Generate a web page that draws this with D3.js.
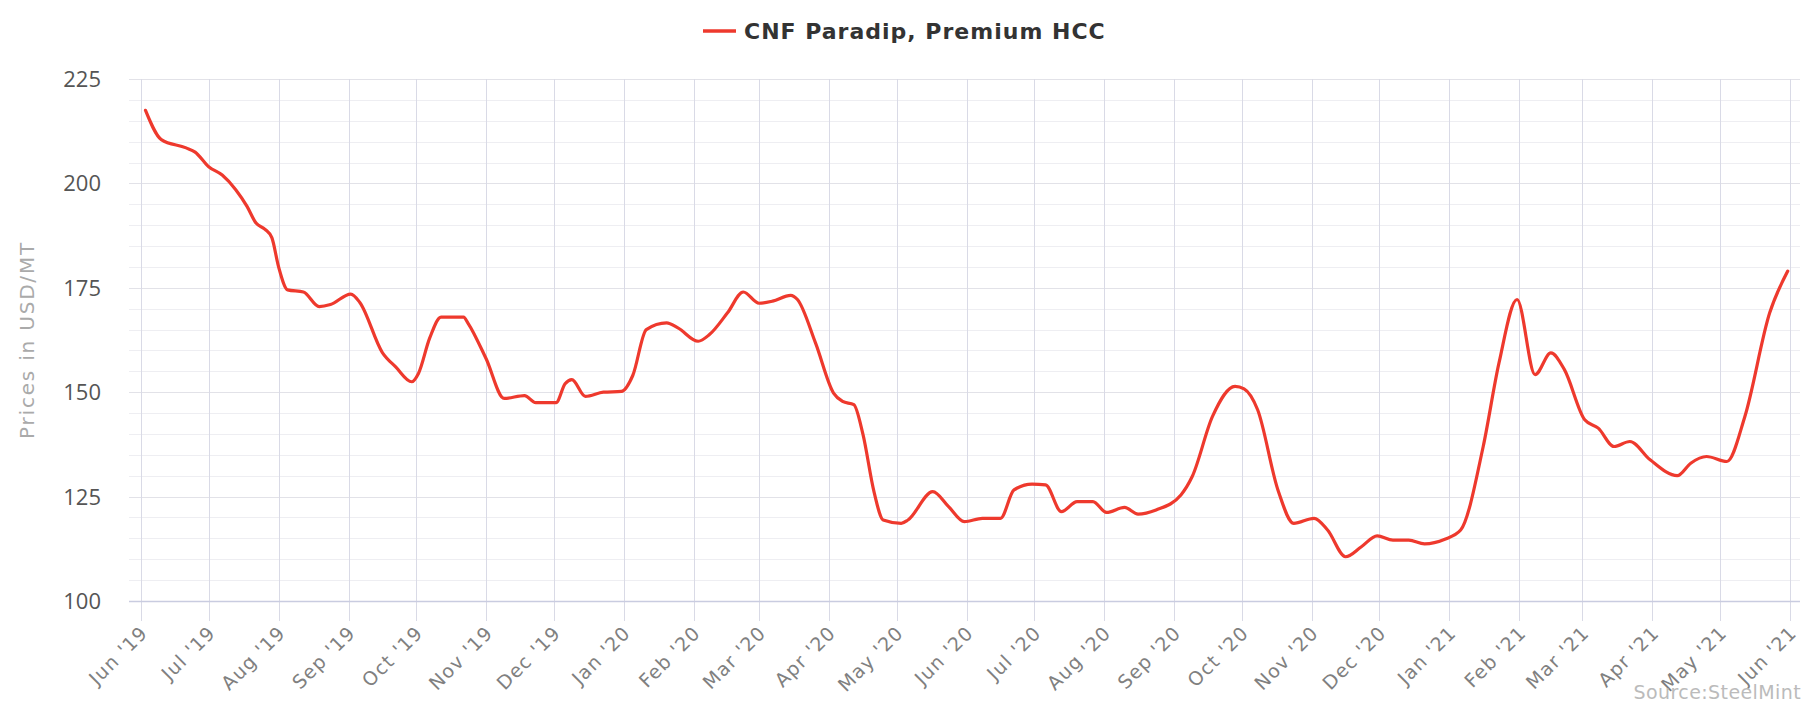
<!DOCTYPE html>
<html>
<head>
<meta charset="utf-8">
<script src="https://cdn.jsdelivr.net/npm/d3@7/dist/d3.min.js"></script>
<style>
  html, body { margin: 0; padding: 0; background: #fff; }
  svg { display: block; font-family: "Open Sans", "Noto Sans", sans-serif; }
</style>
</head>
<body>
<svg id="chart" width="1802" height="704"></svg>
<script>
// ---- data ----
const seriesName = "CNF Paradip, Premium HCC";
const yAxisTitle = "Prices in USD/MT";
const sourceText = "Source:SteelMint";
const yTicks = [100, 125, 150, 175, 200, 225];
const dates = [
  "2019-06-03","2019-06-10","2019-06-21","2019-06-25","2019-07-01","2019-07-07","2019-07-13",
  "2019-07-18","2019-07-22","2019-07-26","2019-07-29","2019-08-01","2019-08-05","2019-08-12",
  "2019-08-19","2019-08-24","2019-09-02","2019-09-06","2019-09-16","2019-09-22","2019-09-29",
  "2019-10-02","2019-10-07","2019-10-12","2019-10-22","2019-10-24","2019-11-01","2019-11-09",
  "2019-11-18","2019-11-23","2019-12-02","2019-12-06","2019-12-09","2019-12-15","2019-12-23",
  "2019-12-31","2020-01-05","2020-01-11","2020-01-20","2020-01-25","2020-02-03","2020-02-08",
  "2020-02-16","2020-02-23","2020-03-01","2020-03-07","2020-03-15","2020-03-18","2020-03-26",
  "2020-04-03","2020-04-07","2020-04-12","2020-04-16","2020-04-21","2020-04-25","2020-05-03",
  "2020-05-06","2020-05-17","2020-05-24","2020-05-31","2020-06-08","2020-06-16","2020-06-22",
  "2020-06-30","2020-07-06","2020-07-13","2020-07-20","2020-07-27","2020-08-02","2020-08-10",
  "2020-08-16","2020-08-24","2020-09-04","2020-09-09","2020-09-18","2020-09-28","2020-10-02",
  "2020-10-08","2020-10-17","2020-10-24","2020-11-02","2020-11-08","2020-11-16","2020-11-23",
  "2020-11-30","2020-12-07","2020-12-14","2020-12-21","2020-12-30","2021-01-06","2021-01-16",
  "2021-01-23","2021-01-31","2021-02-08","2021-02-15","2021-02-21","2021-03-02","2021-03-08",
  "2021-03-15","2021-03-22","2021-03-31","2021-04-12","2021-04-18","2021-04-25","2021-05-04",
  "2021-05-12","2021-05-23","2021-05-31"
];
const prices = [
  217.5,210.5,208.5,207.5,204,202,198.5,
  194.5,190.5,189,187,180,174.5,174,
  170.5,171,173.5,171.5,159.5,156,152.5,
  154.5,163,168,168,166.5,158,148.5,
  149.2,147.5,147.5,152,153,149,150,
  150.2,154,165,166.6,165.4,162.2,163.8,
  169,174,171.3,171.8,173.2,172.2,161.8,
  149.8,147.8,147,140,126,119.4,118.6,
  119.4,126.2,122.6,119,119.8,119.8,126.6,
  128,127.8,121.4,123.8,123.8,121.2,122.4,
  120.8,121.8,125.4,129.8,144.2,151.4,150.8,
  145.8,126.6,118.6,119.8,117,110.6,113,
  115.6,114.6,114.6,113.7,114.8,117,137,
  157,172.2,154.2,159.4,155.4,143.4,141.4,
  137,138.2,133.8,130,133,134.6,133.4,
  144.2,169,179
];
const xStart = "2019-06-01", xEnd = "2021-06-01";

// ---- chart ----
const parse = d3.timeParse("%Y-%m-%d");
const data = dates.map((d, i) => ({ date: parse(d), value: prices[i] }));
const svg = d3.select("#chart");
const plotL = 129, plotR = 1800, plotT = 79, plotB = 601;
const wideFont = "'DejaVu Sans', sans-serif";

const x = d3.scaleTime().domain([parse(xStart), parse(xEnd)]).range([141, 1790]);
const y = d3.scaleLinear().domain([100, 225]).range([plotB, plotT]);

// minor horizontal grid
svg.append("g").selectAll("line").data(d3.range(100, 226, 5).filter(v => v % 25 !== 0))
  .join("line").attr("x1", plotL).attr("x2", plotR)
  .attr("y1", d => Math.round(y(d)) + 0.5).attr("y2", d => Math.round(y(d)) + 0.5)
  .attr("stroke", "#eeeef2").attr("stroke-width", 1);
// major horizontal grid
svg.append("g").selectAll("line").data(yTicks.filter(v => v !== 100))
  .join("line").attr("x1", plotL).attr("x2", plotR)
  .attr("y1", d => Math.round(y(d)) + 0.5).attr("y2", d => Math.round(y(d)) + 0.5)
  .attr("stroke", "#e2e2e8").attr("stroke-width", 1);

// vertical grid + ticks
const months = d3.timeMonth.range(parse(xStart), d3.timeDay.offset(parse(xEnd), 1));
svg.append("g").selectAll("line").data(months)
  .join("line")
  .attr("x1", d => Math.round(x(d)) + 0.5).attr("x2", d => Math.round(x(d)) + 0.5)
  .attr("y1", plotT).attr("y2", plotB + 20)
  .attr("stroke", "#d9dae6").attr("stroke-width", 1);

// x axis baseline
svg.append("line").attr("x1", plotL).attr("x2", plotR)
  .attr("y1", plotB + 0.5).attr("y2", plotB + 0.5)
  .attr("stroke", "#c9cce0").attr("stroke-width", 1.5);

// y tick labels
svg.append("g").selectAll("text").data(yTicks).join("text")
  .attr("x", 101).attr("y", d => y(d)).attr("dy", "0.36em")
  .attr("text-anchor", "end").attr("fill", "#555").attr("font-size", 22)
  .text(d => d);

// x tick labels
const fmt = d3.timeFormat("%b '%y");
svg.append("g").selectAll("text").data(months).join("text")
  .attr("transform", d => `translate(${x(d) + 8},${plotB + 33}) rotate(-45)`)
  .attr("text-anchor", "end").attr("fill", "#808080").attr("font-size", 19)
  .attr("font-family", wideFont).attr("letter-spacing", 1.2)
  .text(d => fmt(d));

// y axis title
svg.append("text")
  .attr("transform", `translate(34,${(plotT + plotB) / 2}) rotate(-90)`)
  .attr("text-anchor", "middle").attr("fill", "#aaa").attr("font-size", 20)
  .attr("font-family", wideFont).attr("letter-spacing", 1.8)
  .text(yAxisTitle);

// line
const line = d3.line().x(d => x(d.date)).y(d => y(d.value)).curve(d3.curveMonotoneX);
svg.append("path").datum(data).attr("d", line)
  .attr("fill", "none").attr("stroke", "#ee392d").attr("stroke-width", 3.2)
  .attr("stroke-linejoin", "round").attr("stroke-linecap", "round");

// legend
svg.append("line").attr("x1", 703).attr("x2", 736).attr("y1", 31).attr("y2", 31)
  .attr("stroke", "#ee392d").attr("stroke-width", 3.5);
svg.append("text").attr("x", 744).attr("y", 31).attr("dy", "0.36em")
  .attr("fill", "#333").attr("font-size", 22).attr("font-weight", 700)
  .attr("font-family", wideFont).attr("letter-spacing", 1)
  .text(seriesName);

// source
svg.append("text").attr("x", 1801).attr("y", 699)
  .attr("text-anchor", "end").attr("fill", "#bbb").attr("font-size", 19)
  .attr("font-family", wideFont).attr("letter-spacing", 0.4)
  .text(sourceText);
</script>
</body>
</html>
